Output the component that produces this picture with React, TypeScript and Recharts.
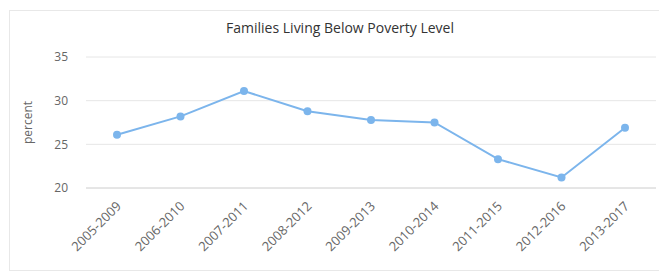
import React from 'react';
import { LineChart, Line, XAxis, YAxis, CartesianGrid } from 'recharts';

const periods = [
  '2005-2009',
  '2006-2010',
  '2007-2011',
  '2008-2012',
  '2009-2013',
  '2010-2014',
  '2011-2015',
  '2012-2016',
  '2013-2017',
];
const percentBelowPoverty = [26.1, 28.2, 31.1, 28.8, 27.8, 27.5, 23.3, 21.2, 26.9];
const yTicks = [20, 25, 30, 35];

const chartData = periods.map((period, i) => ({
  period,
  percent: percentBelowPoverty[i],
}));

const FONT = '"Open Sans", "DejaVu Sans", sans-serif';

const AngledTick = (props: any) => {
  const { x, y, payload } = props;
  return (
    <g transform={`translate(${x + 5},${y + 11})`}>
      <text
        x={0}
        y={0}
        textAnchor="end"
        transform="rotate(-45)"
        fill="#666666"
        fontSize={13}
        fontFamily={FONT}
      >
        {payload.value}
      </text>
    </g>
  );
};

const App: React.FC = () => {
  return (
    <div style={{ position: 'relative', width: 659, height: 266, fontFamily: FONT }}>
      <div
        style={{
          position: 'absolute',
          left: 1,
          top: 2,
          width: 649,
          height: 259,
          border: '1px solid #e8e8e8',
        }}
      />
      <div
        style={{
          position: 'absolute',
          left: 0,
          top: 10,
          width: 664,
          textAlign: 'center',
          fontSize: 14,
          color: '#333333',
        }}
      >
        Families Living Below Poverty Level
      </div>
      <div style={{ position: 'absolute', left: 0, top: 0 }}>
        <LineChart
          width={659}
          height={266}
          data={chartData}
          margin={{ top: 49, right: 11, bottom: 16, left: 18 }}
        >
          <CartesianGrid vertical={false} stroke="#e6e6e6" />
          <XAxis
            dataKey="period"
            height={70}
            padding={{ left: 31, right: 31 }}
            tickLine={false}
            axisLine={{ stroke: '#d8d8d8' }}
            tick={<AngledTick />}
            interval={0}
          />
          <YAxis
            width={60}
            domain={[20, 35]}
            ticks={yTicks}
            tickLine={false}
            axisLine={false}
            tickMargin={12}
            tick={{ fill: '#666666', fontSize: 12, fontFamily: FONT }}
            label={{
              value: 'percent',
              angle: -90,
              position: 'insideLeft',
              offset: 2,
              textAnchor: 'middle',
              fill: '#666666',
              fontSize: 12,
              fontFamily: FONT,
            }}
          />
          <Line
            type="linear"
            dataKey="percent"
            stroke="#7cb5ec"
            strokeWidth={2}
            dot={{ r: 4, fill: '#7cb5ec', stroke: '#7cb5ec', strokeWidth: 0 }}
            isAnimationActive={false}
          />
        </LineChart>
      </div>
    </div>
  );
};

export default App;
